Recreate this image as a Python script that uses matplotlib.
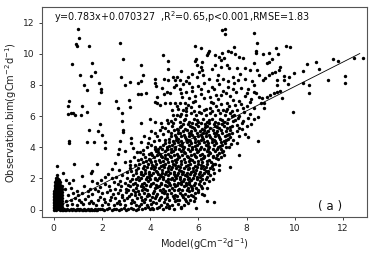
import numpy as np
import matplotlib
matplotlib.use('Agg')
import matplotlib.pyplot as plt

#Fit shown on the chart
slope = 0.783
intercept = 0.070327
line_x = [0.15, 12.7]

#Sparse points, left side of the cloud
upper_left = [(1.01,11.6),(1.05,11.0),(.94,10.64),(.98,10.5),(1.48,10.47),(2.74,10.68),(2.89,9.66),(.77,9.34),(1.6,9.38),
    (1.72,8.82),(1.53,8.55),(1.07,8.63),(1.87,8.14),(1.26,7.97),(1.38,7.65),(1.96,7.76),(1.96,7.54),(2.78,8.53),(2.97,7.97),
    (3.17,8.18),(3.6,9.27),(3.69,8.65),(3.6,8.25),(3.49,8.1),(3.51,7.44),(3.62,7.44),(3.82,7.46),(4.54,9.91),(4.73,9.51),
    (4.76,9.04),(5.3,8.91),(.64,6.94),(.59,6.62),(.59,6.13),(.7,6.17),(.79,6.22),(.89,6.07),(1.13,6.05),(1.19,6.62),(1.36,6.26),
    (1.88,6.86),(2.6,6.97),(2.67,6.52),(2.81,6.2),(3.14,7.03),(3.17,6.56),(2.81,5.66),(1.92,5.51),(3.62,5.56),(4.01,5.81),(4.19,5.64),
    (4.22,8.38),(4.22,8.1),(4.25,7.93),(4.48,7.8),(4.58,8.38),(4.76,8.31),(4.94,8.48),(5.03,8.31),(5.1,8.53),(5.24,8.31),(5.35,8.06),
    (5.48,8.25),(5.0,7.88),(5.06,7.99),(5.24,7.73),(5.27,7.46),(5.31,7.24),(4.69,7.56),(4.83,7.46),(4.58,7.41),(4.27,7.24),(4.2,6.92),
    (4.27,6.82),(4.41,6.71),(4.62,6.82),(4.83,6.82),(5.03,6.86),(5.24,6.82),(5.45,6.82),(4.9,6.39),(5.17,6.43),(5.38,6.39)]

#Sparse points, right side of the cloud
upper_right = [(7.12,11.62),(6.99,11.52),(7.12,11.26),(8.33,11.35),(8.44,10.66),(8.41,10.17),(8.41,10.02),(5.85,10.49),(6.13,10.38),
    (6.46,10.17),(6.36,9.91),(6.4,10.02),(7.5,10.45),(7.22,10.17),(7.37,10.09),(7.51,9.96),(7.68,9.81),(7.84,9.7),(8.69,9.98),
    (8.92,10.06),(9.22,10.38),(9.31,9.96),(9.64,10.49),(9.82,10.43),(6.71,9.91),(6.85,9.81),(6.99,10.02),(7.05,9.76),(5.92,9.64),
    (5.84,9.53),(6.15,9.49),(6.09,9.17),(5.95,9.27),(6.92,9.59),(7.19,9.27),(6.92,9.17),(6.71,9.27),(6.57,9.0),(6.15,8.95),(7.26,9.06),
    (7.6,9.06),(7.95,9.06),(8.3,9.42),(9.06,9.64),(8.92,9.49),(8.85,9.38),(9.4,9.17),(9.34,8.95),(9.2,8.85),(9.06,8.74),(8.92,8.63),
    (8.78,8.42),(8.69,8.31),(9.57,8.57),(9.75,8.48),(9.54,8.31),(9.27,8.31),(9.71,8.06),(9.27,7.99),(8.44,8.95),(8.16,8.95),(8.51,8.63),
    (9.99,8.74),(10.35,8.91),(10.51,9.34),(10.9,9.49),(10.99,9.0),(11.6,9.64),(11.78,9.55),(12.47,9.76),(12.82,9.7),(11.4,8.31),(12.1,8.57),
    (12.1,8.1),(10.35,8.14),(10.61,7.99),(10.58,7.5),(9.27,7.56),(9.37,7.63),(9.16,7.5),(8.99,7.35),(9.48,7.14),(8.85,7.24),(8.65,7.14),
    (8.51,7.24),(8.58,6.82),(8.74,6.5),(8.74,6.82),(9.94,6.28),
    (5.72,8.68),(5.93,8.52),(6.21,8.63),(6.43,8.37),(6.82,8.66),(7.03,8.41),(7.42,8.53),(7.71,8.72),(7.94,8.36),(8.22,8.27),(8.33,8.02),(5.63,8.12),
    (5.97,7.91),(6.23,8.14),(6.58,7.86),(6.87,8.08),(7.22,7.84),(7.48,8.13),(7.77,7.82),(8.06,7.71),(8.31,7.57),(5.73,7.58),(6.12,7.41),(6.38,7.64),
    (6.72,7.36),(7.02,7.63),(7.31,7.31),(7.58,7.54),(7.92,7.26),(8.18,7.12),(8.41,7.47),(5.62,7.17),(5.88,6.97),(6.23,7.18),(6.53,6.91),(6.83,7.13),
    (7.17,6.86),(7.43,7.04),(7.77,6.77),(8.03,6.66),(8.32,6.52),(5.68,6.58),(6.02,6.68),(6.33,6.46),(6.72,6.63),(7.03,6.41),(7.28,6.64),(7.62,6.37),
    (7.91,6.27),(8.13,6.12),(8.47,5.97)]

#Lower outliers and the right edge of the cloud
edge = [(8.46,4.38),(8.05,4.64),(7.95,4.85),(7.68,4.7),(7.26,4.0),(7.03,3.78),(7.68,3.53),(7.33,2.74),(6.87,2.56),(6.61,1.97),(6.36,1.39),
    (6.15,1.39),(6.22,.96),(6.15,1.03),(5.81,.53),(6.36,.53),(6.64,.47),(5.92,.11),(5.7,.96),(.15,2.82),(.82,2.93),(1.81,2.93),(.61,4.38),
    (.62,4.3),(1.37,4.34),(1.67,4.36),(2.14,4.32),(2.13,3.95),(.37,2.35),(1.54,2.35),(1.6,2.46),(1.16,2.18),(.79,1.92),(.5,1.92),(.64,1.71),
    (1.58,1.82),(1.78,1.71),(1.96,1.88),(1.48,5.13),(1.85,5.02),(2.01,4.81),(2.89,5.13),(2.86,4.98),(2.75,4.38),(3.2,4.59),(3.2,4.27),
    (2.72,3.9),(2.65,3.6),(2.95,3.75),(3.3,3.95),(3.45,3.7),(3.7,3.85),(3.95,3.6),(4.15,4.4),(4.3,4.75),(4.05,5.05),(3.75,4.75),(4.5,5.3),
    (4.75,5.55),(4.4,4.05),(3.9,4.3),(3.6,4.35),(2.55,3.0),(2.4,2.6),(2.7,2.55),(2.95,3.05),(3.15,2.85),(2.25,2.3)]

#Near-zero model values, the solid column at the left
column = [(.02,0),(.02,.1),(.02,.2),(.02,.3),(.02,.4),(.02,.5),(.02,.6),(.02,.7),(.02,.8),(.02,.9),(.02,1.0),(.02,1.1),(.02,1.2),(.03,1.3),(.03,1.4),(.03,1.5),
    (.03,1.6),(.03,1.75),(.09,0),(.09,.1),(.09,.2),(.09,.3),(.1,.4),(.09,.5),(.09,.6),(.09,.7),(.1,.8),(.09,.9),(.1,1.0),(.09,1.1),(.09,1.2),(.09,1.3),(.1,1.4),(.09,1.5),
    (.09,1.6),(.1,1.7),(.1,1.8),(.1,1.9),(.1,2.0),(.12,2.2),(.16,.05),(.17,.15),(.16,.25),(.17,.35),(.17,.45),(.16,.55),(.17,.65),(.17,.75),(.16,.85),(.17,.95),(.17,1.05),(.16,1.15),
    (.17,1.25),(.17,1.35),(.16,1.45),(.17,1.55),(.17,1.65),(.16,1.75),(.17,1.85),(.17,1.95),(.25,0),(.24,.1),(.25,.2),(.25,.3),(.24,.4),(.25,.5),(.25,.6),(.24,.7),(.25,.8),
    (.25,.9),(.24,1.0),(.25,1.1),(.25,1.2),(.24,1.3),(.25,1.4),(.25,1.5),(.24,1.6),(.25,1.75),(.31,.05),(.32,.15),(.31,.25),(.32,.35),(.31,.45),(.32,.55),(.31,.65),
    (.32,.75),(.31,.85),(.32,.95),(.31,1.05),(.32,1.15),(.31,1.25),(.32,1.35),(.31,1.45),(.32,1.55),(.22,1.9),(.14,2.05)]

#Points sitting on the x axis
floor_row = [(.36,0),(.4,0),(.44,.02),(.48,0),(.52,.01),(.56,.02),(.63,0),(.7,.03),(.76,0),(.8,.04),(.86,0),(.92,.0),(.97,.02),(1.0,.05),(1.05,0),(1.1,.02),(1.15,0),(1.2,0),
    (1.25,.02),(1.3,.0),(1.35,0),(1.4,.02),(1.45,0),(1.5,0),(1.55,.02),(1.6,.01),(1.65,0),(1.7,.03),(1.75,0),(1.8,.0),(1.85,.02),(1.9,.05),(2.0,.02),(2.1,.0),(2.2,.03),
    (2.3,.1),(2.4,.0),(2.5,.02),(2.6,.05),(2.7,0),(2.8,.02),(2.9,.08),(3.0,.0),(3.1,.03),(3.2,.1),(3.3,.02),(3.4,.0),(3.5,.06),(3.65,.03),(3.8,.1),(4.0,.05),(4.1,.02),
    (4.3,.08),(4.55,.03),(4.8,.1),(5.0,.05),(5.3,.1)]

#Dense cloud, read as rows from bottom to top
cloud_low = [(.55,.3),(.75,.35),(.95,.3),(1.2,.35),(1.45,.4),(1.75,.3),(2.0,.32),(2.25,.38),(2.5,.3),(2.75,.35),(2.95,.28),(3.2,.4),(3.4,.3),(3.6,.36),
    (3.85,.3),(4.05,.35),(4.25,.4),(4.45,.28),(4.7,.38),(4.9,.3),(5.15,.35),(5.4,.3),(5.55,.42),
    (.5,.55),(.7,.6),(.9,.72),(1.05,.6),(1.3,.7),(1.55,.58),(1.85,.62),(2.1,.7),(2.35,.6),(2.55,.72),(2.7,.58),(2.9,.65),(3.05,.75),(3.25,.6),(3.45,.72),(3.65,.6),
    (3.8,.7),(4.0,.62),(4.2,.72),(4.35,.6),(4.6,.68),(4.8,.6),(5.0,.72),(5.2,.62),(5.45,.7),(5.65,.6),(5.85,.72),
    (.6,.95),(.8,1.05),(1.0,.95),(1.15,1.1),(1.4,1.2),(1.6,.98),(2.0,1.05),(2.2,1.15),(2.45,1.0),(2.65,1.1),(2.85,.95),(3.0,1.12),(3.2,1.0),(3.35,1.15),(3.55,.98),
    (3.75,1.1),(3.95,.95),(4.1,1.1),(4.3,1.0),(4.5,1.15),(4.7,.98),(4.85,1.1),(5.05,.95),(5.25,1.1),(5.45,1.0),(5.6,1.18),(5.85,1.05),(6.0,1.15),
    (.45,1.3),(.7,1.4),(1.25,1.5),(1.5,1.35),(1.7,1.3),(1.9,1.45),(2.3,1.5),(2.55,1.35),(2.8,1.5),(3.0,1.35),(3.15,1.5),(3.4,1.4),(3.6,1.52),(3.8,1.35),(4.0,1.5),
    (4.2,1.38),(4.35,1.52),(4.55,1.35),(4.7,1.5),(4.9,1.38),(5.05,1.52),(5.2,1.35),(5.4,1.5),(5.55,1.38),(5.7,1.52),(5.9,1.4),(6.1,1.55),(6.25,1.7),
    (2.5,1.75),(2.75,1.85),(2.95,1.7),(3.15,1.85),(3.35,1.72),(3.55,1.88),(3.75,1.7),(3.9,1.85),(4.1,1.72),(4.3,1.88),(4.45,1.72),(4.65,1.85),(4.8,1.7),(5.0,1.88),
    (5.15,1.72),(5.35,1.85),(5.5,1.72),(5.7,1.88),(5.85,1.72),(6.05,1.85),(6.3,1.95),(6.45,1.85),
    (2.6,2.1),(2.85,2.2),(3.05,2.05),(3.3,2.2),(3.5,2.08),(3.7,2.22),(3.85,2.08),(4.05,2.2),(4.2,2.05),(4.4,2.2),(4.55,2.08),(4.75,2.22),(4.9,2.05),(5.1,2.2),(5.25,2.08),
    (5.45,2.22),(5.6,2.05),(5.8,2.2),(5.95,2.08),(6.15,2.22),(6.35,2.1),(6.5,2.25),(6.65,2.35)]

cloud_mid = [(3.2,2.45),(3.4,2.55),(3.6,2.42),(3.8,2.55),(3.95,2.42),(4.15,2.58),(4.3,2.42),(4.5,2.55),(4.65,2.42),(4.85,2.58),(5.0,2.42),(5.2,2.55),(5.35,2.42),(5.55,2.58),
    (5.7,2.42),(5.9,2.55),(6.05,2.42),(6.25,2.58),(6.4,2.45),(6.6,2.6),
    (3.35,2.85),(3.55,2.95),(3.75,2.8),(3.9,2.95),(4.1,2.8),(4.25,2.95),(4.45,2.82),(4.6,2.95),(4.8,2.8),(4.95,2.95),(5.15,2.8),(5.3,2.95),(5.5,2.82),(5.65,2.95),(5.85,2.8),
    (6.0,2.95),(6.2,2.8),(6.35,2.95),(6.55,2.82),(6.7,2.95),(6.85,2.85),
    (3.6,3.25),(3.8,3.35),(4.0,3.2),(4.15,3.35),(4.35,3.2),(4.5,3.35),(4.7,3.22),(4.85,3.35),(5.05,3.2),(5.2,3.35),(5.4,3.22),(5.55,3.35),(5.75,3.2),(5.9,3.35),(6.1,3.22),
    (6.25,3.35),(6.45,3.2),(6.6,3.35),(6.8,3.25),(6.95,3.35),
    (4.05,3.65),(4.25,3.75),(4.4,3.6),(4.6,3.75),(4.75,3.6),(4.95,3.75),(5.1,3.6),(5.3,3.75),(5.45,3.62),(5.65,3.75),(5.8,3.6),(6.0,3.75),(6.15,3.6),(6.35,3.75),(6.5,3.62),
    (6.7,3.75),(6.85,3.62),(7.05,3.5),
    (4.2,4.05),(4.55,4.15),(4.7,4.0),(4.9,4.15),(5.05,4.0),(5.25,4.15),(5.4,4.02),(5.6,4.15),(5.75,4.0),(5.95,4.15),(6.1,4.0),(6.3,4.15),(6.45,4.02),(6.65,4.15),(6.8,4.0),
    (7.0,4.15),(7.15,4.05),(7.35,4.2),
    (4.6,4.45),(4.8,4.55),(4.95,4.42),(5.15,4.55),(5.3,4.42),(5.5,4.55),(5.65,4.42),(5.85,4.55),(6.0,4.42),(6.2,4.55),(6.35,4.42),(6.55,4.55),(6.7,4.42),(6.9,4.55),(7.05,4.42),
    (7.25,4.55),(7.45,4.45),(7.6,4.3),
    (4.55,4.85),(4.85,4.95),(5.05,4.82),(5.25,4.95),(5.4,4.82),(5.6,4.95),(5.75,4.82),(5.95,4.95),(6.1,4.82),(6.3,4.95),(6.45,4.82),(6.65,4.95),(6.8,4.82),(7.0,4.95),(7.2,4.82),
    (7.4,4.95),(7.6,5.05),(7.8,5.15)]

cloud_high = [(4.6,5.25),(4.9,5.35),(5.1,5.2),(5.3,5.35),(5.45,5.2),(5.65,5.35),(5.8,5.22),(6.0,5.35),(6.15,5.2),(6.35,5.35),(6.5,5.22),(6.7,5.35),(6.85,5.22),(7.05,5.35),(7.2,5.22),
    (7.4,5.35),(7.6,5.45),(7.8,5.55),(8.0,5.35),(8.2,5.5),
    (4.85,5.7),(5.05,5.8),(5.25,5.65),(5.45,5.8),(5.6,5.65),(5.8,5.8),(6.0,5.65),(6.2,5.8),(6.35,5.65),(6.55,5.8),(6.7,5.65),(6.9,5.8),(7.05,5.65),(7.25,5.8),(7.45,5.68),
    (7.65,5.85),(7.85,5.7),(8.05,5.85),(8.3,5.8),
    (5.1,6.1),(5.3,6.15),(5.5,6.05),(5.7,6.2),(5.9,6.05),(6.1,6.2),(6.3,6.05),(6.5,6.2),(6.7,6.08),(6.9,6.2),(7.1,6.08),(7.3,6.2),(7.5,6.1),(7.7,5.98),(5.5,6.55),(5.8,6.3),(6.55,6.35),(7.15,6.3)]

#Extra points filling the black core of the cloud
core_fill = [(3.31,.47),(3.52,.21),(3.73,.52),(3.91,.18),(4.13,.49),(4.37,.17),(4.58,.51),(4.79,.22),(5.03,.53),(5.28,.19),(5.5,.55),(3.12,.86),(3.37,.91),(3.61,.83),(3.86,.88),(4.07,.81),(4.26,.89),
    (4.47,.84),(4.69,.82),(4.93,.87),(5.13,.85),(5.36,.83),(5.57,.86),(5.78,.88),(3.09,1.24),(3.28,1.27),(3.49,1.21),(3.68,1.26),(3.88,1.23),(4.16,1.22),(4.39,1.25),(4.62,1.21),(4.78,1.27),(4.97,1.24),
    (5.14,1.23),(5.33,1.26),(5.51,1.24),(5.74,1.27),(5.97,1.26),(3.07,1.6),(3.27,1.63),(3.47,1.58),(3.66,1.64),(3.83,1.6),(4.03,1.63),(4.24,1.59),(4.43,1.62),(4.61,1.6),(4.83,1.58),(4.99,1.63),
    (5.12,1.61),(5.3,1.64),(5.49,1.6),(5.63,1.63),(5.8,1.61),(6.02,1.66),(3.23,1.97),(3.42,1.95),(3.63,2.0),(3.82,1.96),(4.01,1.98),(4.18,1.96),(4.36,2.0),(4.52,1.95),(4.72,1.99),(4.88,1.96),(5.06,2.0),
    (5.22,1.96),(5.42,1.99),(5.59,1.96),(5.77,2.0),(5.93,1.96),(6.14,1.99),(3.43,2.34),(3.62,2.31),(3.77,2.36),(3.97,2.32),(4.12,2.37),(4.32,2.31),(4.48,2.37),(4.63,2.32),(4.82,2.36),(4.97,2.31),(5.16,2.36),
    (5.31,2.32),(5.51,2.37),(5.66,2.31),(5.84,2.36),(6.01,2.31),(6.22,2.37),(6.42,2.33),(3.51,2.7),(3.69,2.66),(3.87,2.71),(4.03,2.67),(4.21,2.72),(4.38,2.67),(4.56,2.71),(4.72,2.66),(4.9,2.72),(5.08,2.68),
    (5.24,2.72),(5.42,2.66),(5.6,2.7),(5.78,2.67),(5.96,2.72),(6.12,2.67),(6.31,2.72),(6.48,2.68),(3.71,3.08),(3.84,3.11),(4.04,3.06),(4.2,3.12),(4.4,3.07),(4.55,3.11),(4.74,3.07),(4.91,3.12),(5.09,3.06),
    (5.26,3.12),(5.44,3.07),(5.62,3.11),(5.8,3.07),(5.98,3.12),(6.15,3.06),(6.34,3.11),(6.52,3.07),(4.09,3.48),(4.27,3.51),(4.47,3.47),(4.63,3.52),(4.81,3.47),(4.98,3.52),(5.17,3.46),(5.34,3.51),(5.52,3.47),
    (5.7,3.52),(5.87,3.47),(6.05,3.51),(6.22,3.47),(6.41,3.52),(6.6,3.47),(6.76,3.51),(4.33,3.88),(4.51,3.91),(4.68,3.87),(4.85,3.92),(5.02,3.88),(5.2,3.91),(5.37,3.87),(5.55,3.92),(5.72,3.88),(5.9,3.91),
    (6.07,3.87),(6.25,3.92),(6.42,3.88),(6.6,3.91),(6.77,3.87),(6.95,3.91),(4.62,4.29),(4.79,4.32),(4.99,4.27),(5.16,4.31),(5.34,4.27),(5.51,4.32),(5.69,4.28),(5.86,4.31),(6.04,4.27),(6.22,4.32),(6.39,4.28),
    (6.57,4.31),(6.74,4.27),(6.92,4.31),(7.09,4.27),(4.88,4.72),(5.08,4.69),(5.26,4.73),(5.44,4.68),(5.62,4.72),(5.8,4.68),(5.97,4.73),(6.15,4.69),(6.33,4.72),(6.5,4.68),(6.68,4.73),(6.86,4.69),(7.12,4.72),
    (7.32,4.68),(5.0,5.08),(5.17,5.1),(5.35,5.06),(5.53,5.11),(5.71,5.07),(5.88,5.1),(6.06,5.06),(6.24,5.11),(6.41,5.07),(6.59,5.1),(6.77,5.06),(6.95,5.1),(7.13,5.06),(7.33,5.11),(5.38,5.52),(5.57,5.49),(5.74,5.53),
    (5.92,5.5),(6.1,5.53),(6.28,5.49),(6.46,5.53),(6.64,5.5),(6.82,5.53),(7.0,5.49),(7.18,5.53)]

#Second pass over gaps: the core, the thin lower-left part and the band above the cloud
gap_fill = [(4.06,.12),(4.64,.15),(5.12,.61),(4.42,.73),(3.93,1.03),(4.58,1.07),(5.32,.95),(5.72,1.41),(4.27,1.43),(3.71,1.47),(4.76,1.77),(5.26,1.79),(5.62,1.8),(3.96,2.12),(4.47,2.14),(5.03,2.13),
    (5.53,2.15),(6.08,2.1),(4.23,2.49),(4.76,2.5),(5.27,2.49),(5.78,2.51),(6.31,2.49),(4.06,2.88),(4.52,2.89),(5.03,2.87),(5.58,2.89),(6.11,2.87),(6.62,2.9),(3.94,3.28),(4.62,3.29),(5.12,3.27),(5.67,3.28),
    (6.18,3.29),(6.72,3.29),(4.34,3.68),(4.87,3.69),(5.39,3.68),(5.93,3.68),(6.44,3.69),(6.98,3.68),(4.78,4.08),(5.31,4.08),(5.84,4.08),(6.38,4.09),(6.91,4.08),(5.07,4.49),(5.58,4.48),(6.11,4.49),(6.63,4.49),
    (7.16,4.49),(5.17,4.89),(5.68,4.88),(6.21,4.89),(6.72,4.89),(7.28,4.88),(5.22,5.28),(5.73,5.28),(6.26,5.29),(6.78,5.28),(7.31,5.29),(7.7,5.27),(5.42,5.73),(5.93,5.73),(6.46,5.73),(6.97,5.73),(7.52,5.77),
    (1.12,.48),(1.63,.44),(2.12,.5),(2.62,.46),(2.83,.82),(2.37,.84),(1.93,.83),(1.42,.88),(.98,1.22),(1.82,1.18),(2.34,1.28),(2.74,1.27),(2.11,1.62),(2.68,1.62),(2.42,2.02),(2.12,2.08),(3.18,2.68),(3.02,2.4),
    (3.48,3.2),(3.33,3.38),(3.18,3.12),(3.72,3.55),(3.58,3.72),(3.86,4.02),(4.03,4.12),(4.2,3.9),(3.95,4.6),(4.18,4.95),(4.4,5.12),(4.37,4.48),(4.72,5.07),(4.7,5.78),(4.46,5.55),(4.95,5.58),(5.22,5.98),
    (4.93,6.05),(5.47,6.32),(5.12,6.62),(5.57,6.72),(5.78,6.88),(6.02,6.28),(6.22,6.42),(6.48,6.55),(6.62,6.82),(6.95,6.75),(6.83,6.42),(7.17,6.48),(7.4,6.32),(7.52,6.72),(7.7,6.95),(7.4,5.98),(7.87,6.53),
    (5.48,7.52),(5.87,7.28),(6.48,7.22),(6.93,7.37),(7.15,7.48),(7.42,7.72),(6.67,7.72),(6.1,7.72),(5.72,7.88),(8.14,6.92),(8.02,7.48),(6.76,8.33),(7.22,8.28),(7.65,8.32),(5.55,8.48),(6.02,8.82)]

all_points = np.array(upper_left + upper_right + edge + column + floor_row + cloud_low + cloud_mid + cloud_high + core_fill + gap_fill)

plt.rcParams['font.size'] = 6.6
fig = plt.figure(figsize=(3.74, 2.56), dpi=100)
ax = fig.add_axes([42/374, 1 - 217/256, 325/374, 210/256])
ax.scatter(all_points[:, 0], all_points[:, 1], s=6, c='k', linewidths=0, zorder=2)
fit_x = np.array(line_x)
ax.plot(fit_x, slope * fit_x + intercept, color='k', lw=0.6, zorder=3)

ax.set_xlim(-0.49, 13.0)
ax.set_ylim(-0.47, 13.0)
ax.set_xticks([0, 2, 4, 6, 8, 10, 12])
ax.set_yticks([0, 2, 4, 6, 8, 10, 12])
ax.tick_params(length=2.5, width=0.6, pad=2.5, colors='#222222')
for side in ax.spines.values():
    side.set_linewidth(0.8)
    side.set_color('#555555')
ax.set_xlabel(r'Model(gCm$^{-2}$d$^{-1}$)', fontsize=7.1, labelpad=2.5, color='#222222')
ax.set_ylabel(r'Observation.bim(gCm$^{-2}$d$^{-1}$)', fontsize=7.1, labelpad=3, color='#222222')
ax.text(0.0, 12.35, r'y=0.783x+0.070327  ,R$^{2}$=0.65,p<0.001,RMSE=1.83', fontsize=6.9, va='center', color='#111111')
ax.text(10.95, 0.2, '( a )', fontsize=8.6, va='center', color='#111111')

fig.savefig('out.png', dpi=100)
